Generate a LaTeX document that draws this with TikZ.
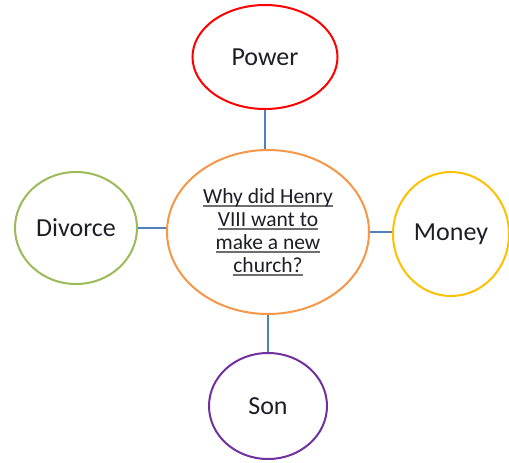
\documentclass[tikz,border=0pt]{standalone}
\usepackage{fontspec}
\setmainfont{Carlito}
\usetikzlibrary{shapes.geometric}
\definecolor{cred}{RGB}{255,0,0}
\definecolor{corange}{RGB}{247,150,70}
\definecolor{cgreen}{RGB}{155,187,89}
\definecolor{cyellow}{RGB}{255,192,0}
\definecolor{cpurple}{RGB}{112,48,160}
\definecolor{cblue}{RGB}{79,129,189}
\definecolor{ulgray}{RGB}{110,110,110}
\definecolor{txt}{RGB}{30,30,40}
\newcommand\gul[1]{\leavevmode\setbox0\hbox{#1}\rlap{\color{ulgray}\rule[-3.5pt]{\wd0}{1.8pt}}\box0}
\tikzset{
  bubble/.style={ellipse, draw, line width=2pt, fill=white, inner sep=0pt, text=txt,
    font=\fontsize{26}{31}\selectfont},
  link/.style={draw=cblue, line width=2pt}
}
\begin{document}
\begin{tikzpicture}[x=1pt,y=-1pt]
\useasboundingbox (0,0) rectangle (509,463);
\node[bubble, draw=corange, minimum width=202pt, minimum height=164pt,
  align=center, font=\fontsize{21.5}{22.5}\selectfont] (q) at (268,232)
  {\gul{Why did Henry}\\[0.6pt]\gul{VIII want to}\\[0.6pt]\gul{make a new}\\[0.6pt]\gul{church?}};
\node[bubble, draw=cred, minimum width=145pt, minimum height=104pt] (p) at (265,57) {Power};
\node[bubble, draw=cgreen, minimum width=122pt, minimum height=112pt] (d) at (76,228) {Divorce};
\node[bubble, draw=cyellow, minimum width=116pt, minimum height=124pt] (m) at (451,234) {Money};
\node[bubble, draw=cpurple, minimum width=118pt, minimum height=106pt] (s) at (268,406) {Son};
\draw[link] (p.south) -- (p.south |- q.north);
\draw[link] (d.east) -- (d.east -| q.west);
\draw[link] (q.east) -- (q.east -| m.west);
\draw[link] (q.south) -- (q.south |- s.north);
\end{tikzpicture}
\end{document}
